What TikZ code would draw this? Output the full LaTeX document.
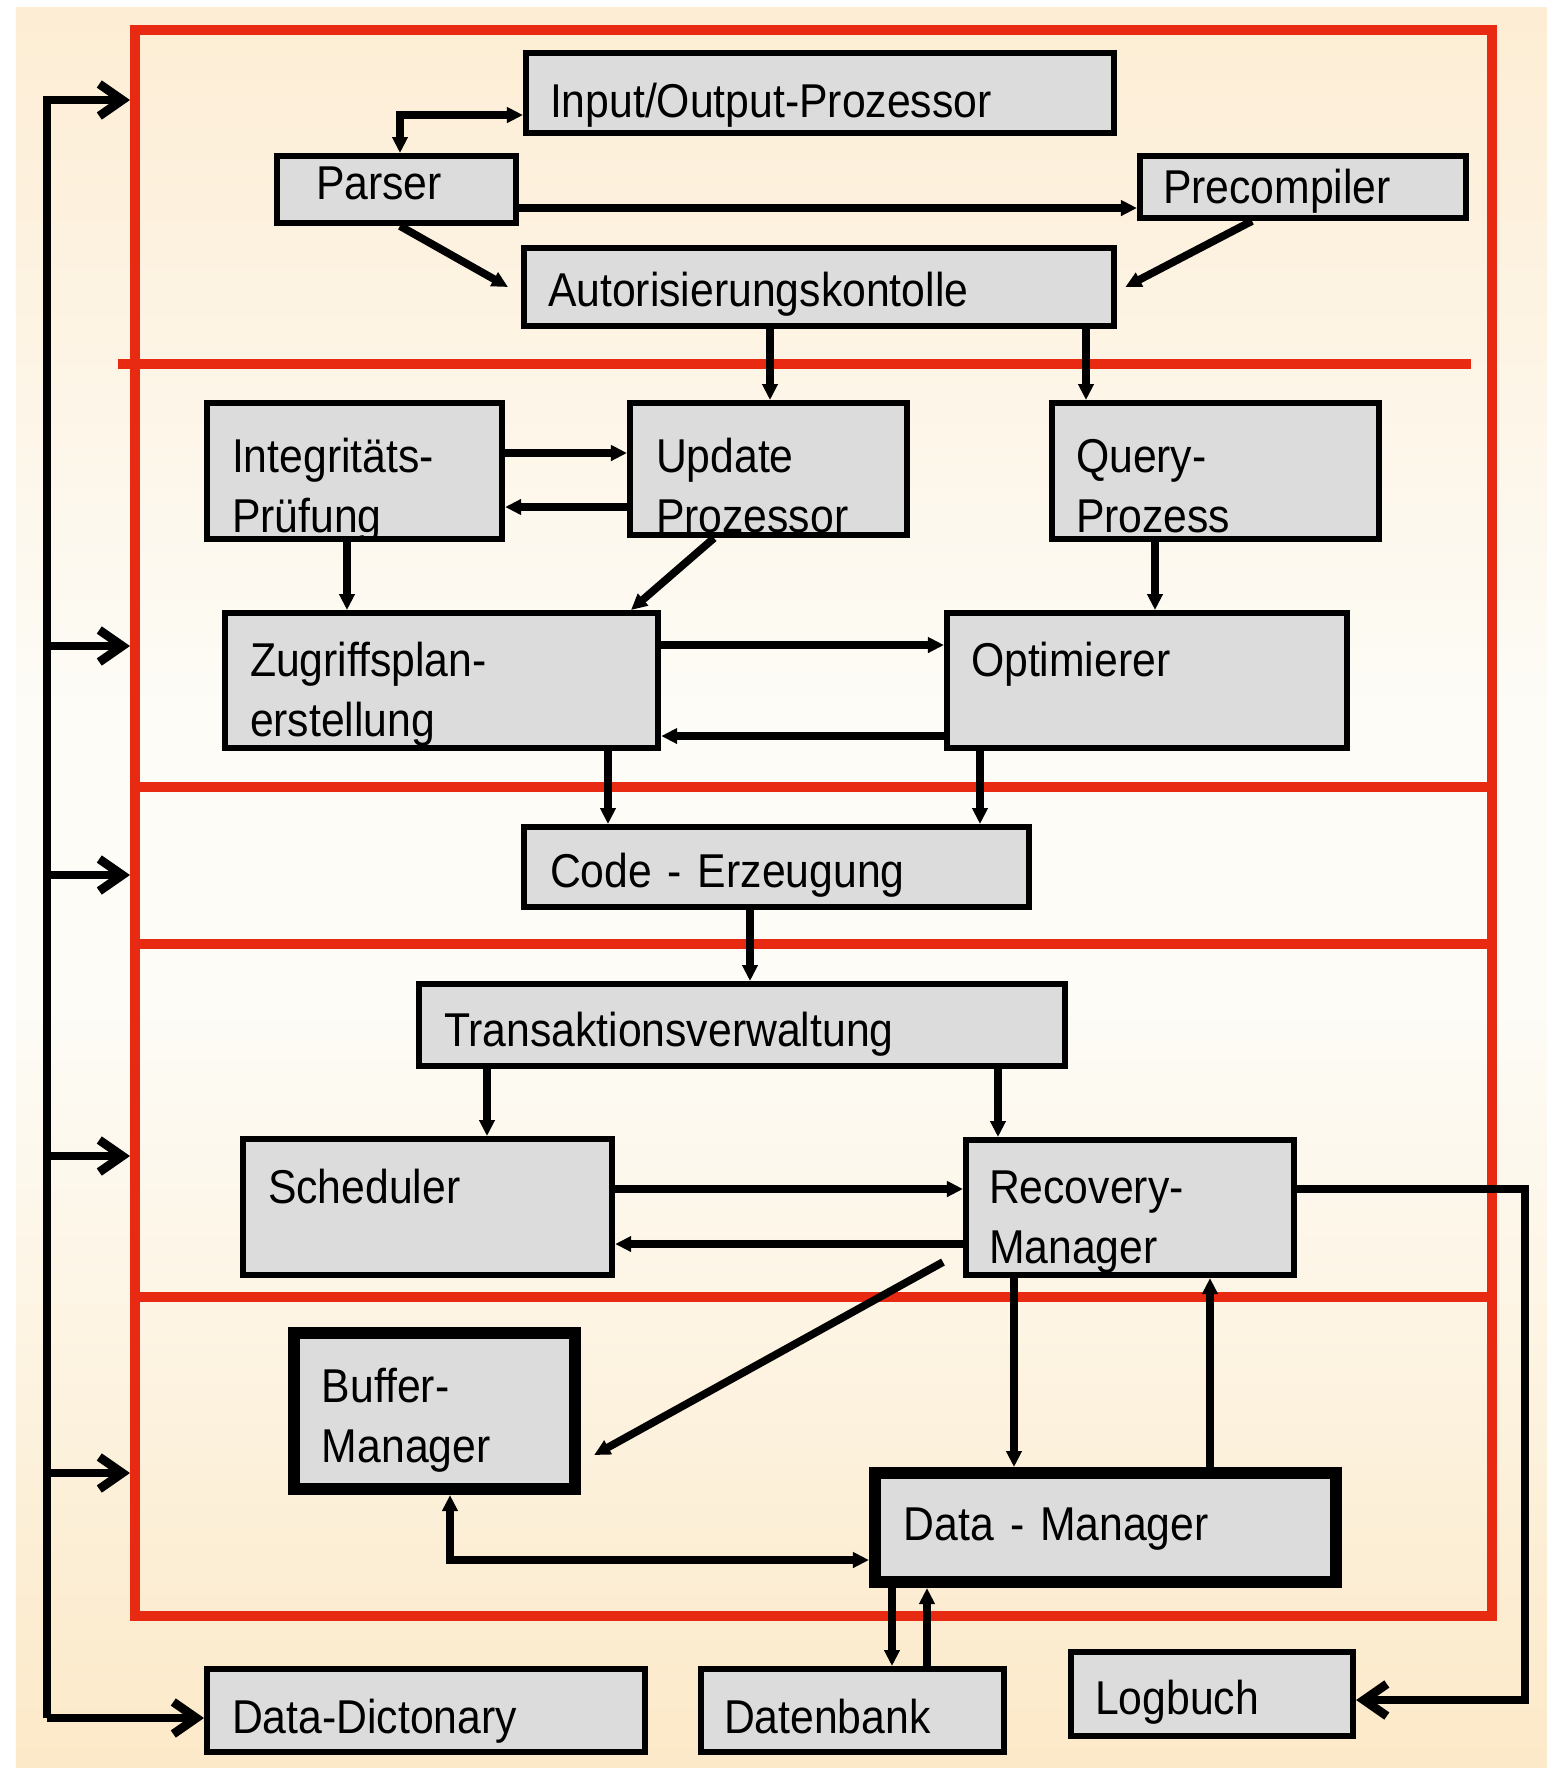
\documentclass[tikz,border=0pt]{standalone}
\usepackage{fontspec}
\setmainfont[FakeStretch=0.9]{Liberation Sans}
\usetikzlibrary{arrows.meta}
\definecolor{boxgray}{RGB}{220,220,220}
\definecolor{layerred}{RGB}{232,42,18}
\definecolor{bgtop}{RGB}{253,237,212}
\definecolor{bgmid}{RGB}{253,252,247}
\definecolor{bgbot}{RGB}{252,233,200}

\begin{document}
\begin{tikzpicture}[x=0.01cm, y=-0.01cm,
        blk/.style={draw=black, fill=boxgray, line width=1.7pt, anchor=north west, inner ysep=0pt, align=left, font={\fontsize{13.5}{17.3}\selectfont}},
        thickblk/.style={blk, line width=3.4pt},
        layer/.style={draw=layerred, line width=2.8pt},
        con/.style={line width=2.2pt, -{Triangle[length=0.16cm,width=0.15cm]}},
        con2/.style={line width=2.2pt, {Triangle[length=0.16cm,width=0.15cm]}-{Triangle[length=0.16cm,width=0.15cm]}},
        busarrow/.style={line width=2.5pt, -{Straight Barb[length=0.23cm,width=0.32cm]}}]

        \useasboundingbox (0,0) rectangle (1547,1768);
        \shade[top color=bgtop, bottom color=bgmid] (16,7) rectangle (1547,720);
        \fill[bgmid] (16,719) rectangle (1547,1001);
        \shade[top color=bgmid, bottom color=bgbot] (16,1000) rectangle (1547,1768);

        % Schichten
        \node[layer, anchor=north west, minimum width=13.56cm, minimum height=15.85cm, inner sep=0pt] (dbms) at (130,25) {};
        \draw[layer] (118,364) -- (1471,364);
        \foreach \yy in {787,944,1297}
            \draw[layer] (135,\yy) -- (1491,\yy);

        \node[blk, inner xsep=0.24cm, text width=5.40cm, text height=0.64cm, text depth=0.16cm] (io) at (523,50) {Input/Output-Prozessor};
        \node[blk, inner xsep=0.39cm, text width=1.61cm, text height=0.43cm, text depth=0.24cm] (parser) at (274,153) {Parser};
        \node[blk, inner xsep=0.23cm, text width=2.80cm, text height=0.47cm, text depth=0.15cm] (precompiler) at (1137,153) {Precompiler};
        \node[blk, inner xsep=0.24cm, text width=5.42cm, text height=0.58cm, text depth=0.20cm] (autor) at (521,245) {Autorisierungskontolle};
        \node[blk, inner xsep=0.25cm, text width=2.45cm, text height=0.69cm, text depth=0.67cm] (integ) at (204,400) {Integritäts-\\Prüfung};
        \node[blk, inner xsep=0.26cm, text width=2.25cm, text height=0.69cm, text depth=0.63cm] (update) at (627,400) {Update\\Prozessor};
        \node[blk, inner xsep=0.24cm, text width=2.79cm, text height=0.69cm, text depth=0.67cm] (query) at (1049,400) {Query-\\Prozess};
        \node[blk, inner xsep=0.25cm, text width=3.83cm, text height=0.63cm, text depth=0.72cm] (zugriff) at (222,610) {Zugriffsplan-\\erstellung};
        \node[blk, inner xsep=0.24cm, text width=3.52cm, text height=0.63cm, text depth=0.72cm] (opt) at (944,610) {Optimierer};
        \node[blk, inner xsep=0.26cm, text width=4.53cm, text height=0.60cm, text depth=0.20cm] (code) at (521,824) {Code - Erzeugung};
        \node[blk, inner xsep=0.25cm, text width=5.96cm, text height=0.62cm, text depth=0.20cm] (trans) at (416,981) {Transaktionsverwaltung};
        \node[blk, inner xsep=0.25cm, text width=3.19cm, text height=0.64cm, text depth=0.72cm] (sched) at (240,1136) {Scheduler};
        \node[blk, inner xsep=0.23cm, text width=2.82cm, text height=0.63cm, text depth=0.72cm] (recov) at (963,1137) {Recovery-\\Manager};
        \node[thickblk, inner xsep=0.28cm, text width=2.25cm, text height=0.69cm, text depth=0.87cm] (buffer) at (288,1327) {Buffer-\\Manager};
        \node[thickblk, inner xsep=0.29cm, text width=4.03cm, text height=0.67cm, text depth=0.42cm] (dm) at (869,1467) {Data - Manager};
        \node[blk, inner xsep=0.25cm, text width=3.88cm, text height=0.64cm, text depth=0.19cm] (dd) at (204,1666) {Data-Dictonary};
        \node[blk, inner xsep=0.23cm, text width=2.57cm, text height=0.64cm, text depth=0.19cm] (db) at (698,1666) {Datenbank};
        \node[blk, inner xsep=0.24cm, text width=2.34cm, text height=0.62cm, text depth=0.22cm] (log) at (1068,1649) {Logbuch};

        \coordinate (xp) at (400,0);
        \coordinate (xa) at (770,0);
        \coordinate (xb) at (1086,0);
        \coordinate (xc) at (347,0);
        \coordinate (xd) at (1155,0);
        \coordinate (xe) at (608,0);
        \coordinate (xf) at (980,0);
        \coordinate (xg) at (750,0);
        \coordinate (xh) at (487,0);
        \coordinate (xi) at (998,0);
        \coordinate (xj) at (1014,0);
        \coordinate (xk) at (1210,0);
        \coordinate (xl) at (450,0);
        \coordinate (xm) at (892,0);
        \coordinate (xn) at (927,0);
        \coordinate (xo) at (1525,0);
        \coordinate (xq) at (1252,0);
        \coordinate (xr) at (714,0);
        \coordinate (xs) at (631,0);
        \coordinate (ya) at (0,115);
        \coordinate (yb) at (0,208);
        \coordinate (yc) at (0,453);
        \coordinate (yd) at (0,507);
        \coordinate (ye) at (0,645);
        \coordinate (yf) at (0,736);
        \coordinate (yg) at (0,1189);
        \coordinate (yh) at (0,1244);
        \coordinate (yi) at (0,1560);
        \coordinate (yj) at (0,1700);

        \draw[con2] (xp |- parser.north) |- (io.west |- ya);
        \draw[con] (parser.east |- yb) -- (precompiler.west |- yb);
        \draw[con] (xp |- parser.south) -- ([xshift=-0.13cm]autor.west);
        \draw[con] (xq |- precompiler.south) -- ([xshift=0.08cm]autor.east);
        \draw[con] (xa |- autor.south) -- (xa |- update.north);
        \draw[con] (xb |- autor.south) -- (xb |- query.north);
        \draw[con] (integ.east |- yc) -- (update.west |- yc);
        \draw[con] (update.west |- yd) -- (integ.east |- yd);
        \draw[con] (xc |- integ.south) -- (xc |- zugriff.north);
        \draw[con] (xr |- update.south) -- (xs |- zugriff.north);
        \draw[con] (xd |- query.south) -- (xd |- opt.north);
        \draw[con] (zugriff.east |- ye) -- (opt.west |- ye);
        \draw[con] (opt.west |- yf) -- (zugriff.east |- yf);
        \draw[con] (xe |- zugriff.south) -- (xe |- code.north);
        \draw[con] (xf |- opt.south) -- (xf |- code.north);
        \draw[con] (xg |- code.south) -- (xg |- trans.north);
        \draw[con] (xh |- trans.south) -- (xh |- sched.north);
        \draw[con] (xi |- trans.south) -- (xi |- recov.north);
        \draw[con] (sched.east |- yg) -- (recov.west |- yg);
        \draw[con] (recov.west |- yh) -- (sched.east |- yh);
        \draw[con] ([xshift=-0.2cm,yshift=-0.545cm]recov.west) -- ([xshift=0.13cm,yshift=-0.44cm]buffer.east);
        \draw[con] (xj |- recov.south) -- (xj |- dm.north);
        \draw[con] (xk |- dm.north) -- (xk |- recov.south);
        \draw[con2] (xl |- buffer.south) |- (dm.west |- yi);
        \draw[con] (xm |- dm.south) -- (xm |- db.north);
        \draw[con] (xn |- db.north) -- (xn |- dm.south);
        \draw[busarrow] (recov.east |- yg) -| (xo |- yj) -- (log.east |- yj);

        % Bus
        \coordinate (bustop) at (47,100);
        \coordinate (busbot) at (47,1718);
        \draw[busarrow] (busbot) -- (bustop) -- (bustop -| dbms.west);
        \draw[busarrow] (busbot) -- (busbot -| dd.west);
        \foreach \yy [count=\i] in {646,875,1156,1473} {
            \coordinate (b\i) at (47,\yy);
            \draw[busarrow] (b\i) -- (b\i -| dbms.west);
        }

\end{tikzpicture}
\end{document}
